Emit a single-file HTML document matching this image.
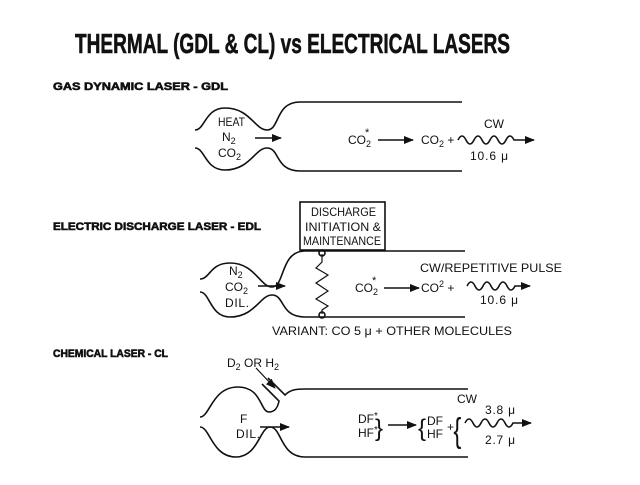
<!DOCTYPE html>
<html><head><meta charset="utf-8"><style>
html,body{margin:0;padding:0;background:#fff;}
svg{display:block;}
text{font-family:"Liberation Sans",sans-serif;fill:#111;}
.h{font-weight:bold;stroke:#111;stroke-width:0.6;}
.m{font-size:12px;}
</style></head><body>
<svg width="640" height="485" viewBox="0 0 640 485" xmlns="http://www.w3.org/2000/svg">
<defs><marker id="a" markerWidth="10" markerHeight="8" refX="9" refY="4" orient="auto" markerUnits="userSpaceOnUse"><path d="M0,0 L10,4 L0,8 Z" fill="#111"/></marker></defs>
<g stroke="#111" stroke-width="1.6" fill="none">
<!-- GDL -->
<path d="M195,130 C205,130 205,108 225,108 C250,108 255,130 267,130 C280,130 275,102 300,102 L462,102"/>
<path d="M195,148 C205,148 205,170 225,170 C250,170 255,148 267,148 C280,148 275,171 300,171 L462,171"/>
<path d="M255,138 L281,138" marker-end="url(#a)"/>
<path d="M378,140 L413,140" marker-end="url(#a)"/>
<path d="M458,140 q4,-8 8,0 t8,0 t8,0 t8,0 t8,0 t8,0 t8,0 L534,140" marker-end="url(#a)"/>
<!-- EDL -->
<rect x="300" y="202" width="85" height="48"/>
<path d="M200,279 C210,279 210,263 230,263 C255,263 260,287 272,287 C285,287 280,251 305,251 L465,251"/>
<path d="M200,292 C210,292 210,317 230,317 C255,317 260,295 272,295 C285,295 280,317 305,317 L465,317"/>
<path d="M258,286 L285,286" marker-end="url(#a)"/>
<path d="M322,254 L322,262 L316,268 L328,275 L316,283 L328,291 L316,299 L328,306 L322,310 L322,314" stroke-width="1.2"/>
<circle cx="322" cy="253" r="3"/><circle cx="322" cy="315" r="3"/>
<path d="M384,288 L419,288" marker-end="url(#a)"/>
<path d="M467,286 q4,-8 8,0 t8,0 t8,0 t8,0 t8,0 t8,0 L530,286" marker-end="url(#a)"/>
<!-- CL -->
<path d="M200,417 C210,417 212,387 238,387 C262,387 260,412 269,412 C276,412 278,406 279,401 L262,384"/>
<path d="M268,378 L285,395 C290,390 295,389 305,389 L468,389"/>
<path d="M200,427 C210,427 212,457 236,457 C258,457 260,427 270,427 C282,427 280,457 305,457 L468,457"/>
<path d="M260,427 L289,427" marker-end="url(#a)"/>
<path d="M256,368 L275,388" stroke-width="1.2" marker-end="url(#a)"/>
<path d="M388,425 L416,425" marker-end="url(#a)"/>
<path d="M465,423 q4,-8 8,0 t8,0 t8,0 t8,0 t8,0 t8,0 L531,423" marker-end="url(#a)"/>
</g>
<text x="75" y="53" class="h" font-size="28" textLength="435" lengthAdjust="spacingAndGlyphs">THERMAL (GDL &amp; CL) vs ELECTRICAL LASERS</text>
<text x="53" y="90" class="h" font-size="11" textLength="175" lengthAdjust="spacingAndGlyphs">GAS DYNAMIC LASER - GDL</text>
<text x="53" y="230" class="h" font-size="11" textLength="208" lengthAdjust="spacingAndGlyphs">ELECTRIC DISCHARGE LASER - EDL</text>
<text x="53" y="357" class="h" font-size="11" textLength="115" lengthAdjust="spacingAndGlyphs">CHEMICAL LASER - CL</text>
<text x="218" y="126" class="m" textLength="27" lengthAdjust="spacingAndGlyphs">HEAT</text>
<text x="222" y="141" class="m">N<tspan font-size="9" dy="3">2</tspan></text>
<text x="218" y="157" class="m">CO<tspan font-size="9" dy="3">2</tspan></text>
<text x="348" y="144" class="m">CO<tspan font-size="9" dy="3">2</tspan><tspan font-size="11" dx="-6" dy="-11">*</tspan></text>
<text x="421" y="144" class="m">CO<tspan font-size="9" dy="3">2</tspan><tspan dy="-3"> +</tspan></text>
<text x="484" y="128" class="m">CW</text>
<text x="470" y="160" class="m" textLength="38">10.6 μ</text>
<text x="311" y="216" class="m" textLength="65" lengthAdjust="spacingAndGlyphs">DISCHARGE</text>
<text x="305" y="231" class="m" textLength="76" lengthAdjust="spacingAndGlyphs">INITIATION &amp;</text>
<text x="303" y="245" class="m" textLength="78" lengthAdjust="spacingAndGlyphs">MAINTENANCE</text>
<text x="229" y="275" class="m">N<tspan font-size="9" dy="3">2</tspan></text>
<text x="225" y="291" class="m">CO<tspan font-size="9" dy="3">2</tspan></text>
<text x="225" y="307" class="m" textLength="24">DIL.</text>
<text x="355" y="292" class="m">CO<tspan font-size="9" dy="3">2</tspan><tspan font-size="11" dx="-6" dy="-11">*</tspan></text>
<text x="421" y="292" class="m">CO<tspan font-size="9" dy="-5">2</tspan><tspan dy="5"> +</tspan></text>
<text x="420" y="272" class="m" textLength="142" lengthAdjust="spacingAndGlyphs">CW/REPETITIVE PULSE</text>
<text x="480" y="304" class="m" textLength="38">10.6 μ</text>
<text x="272" y="335" class="m" textLength="240" lengthAdjust="spacingAndGlyphs">VARIANT:  CO   5 μ + OTHER MOLECULES</text>
<text x="227" y="367" class="m">D<tspan font-size="9" dy="3">2</tspan><tspan dy="-3"> OR H</tspan><tspan font-size="9" dy="3">2</tspan></text>
<text x="240" y="423" class="m">F</text>
<text x="236" y="438" class="m" textLength="24">DIL.</text>
<text x="358" y="423" class="m">DF<tspan font-size="10" dy="-4">*</tspan></text>
<text x="358" y="437" class="m">HF<tspan font-size="10" dy="-4">*</tspan></text>
<text x="375" y="436" font-size="24">}</text>
<text x="418" y="436" font-size="24">{</text>
<text x="427" y="425" class="m">DF</text>
<text x="427" y="438" class="m">HF</text>
<text x="447" y="431" class="m">+</text>
<text x="452" y="442" font-size="34" transform="translate(137,0) scale(0.7,1)">{</text>
<text x="457" y="403" class="m">CW</text>
<text x="485" y="414" class="m" textLength="30">3.8 μ</text>
<text x="485" y="444" class="m" textLength="30">2.7 μ</text>
</svg>
</body></html>
